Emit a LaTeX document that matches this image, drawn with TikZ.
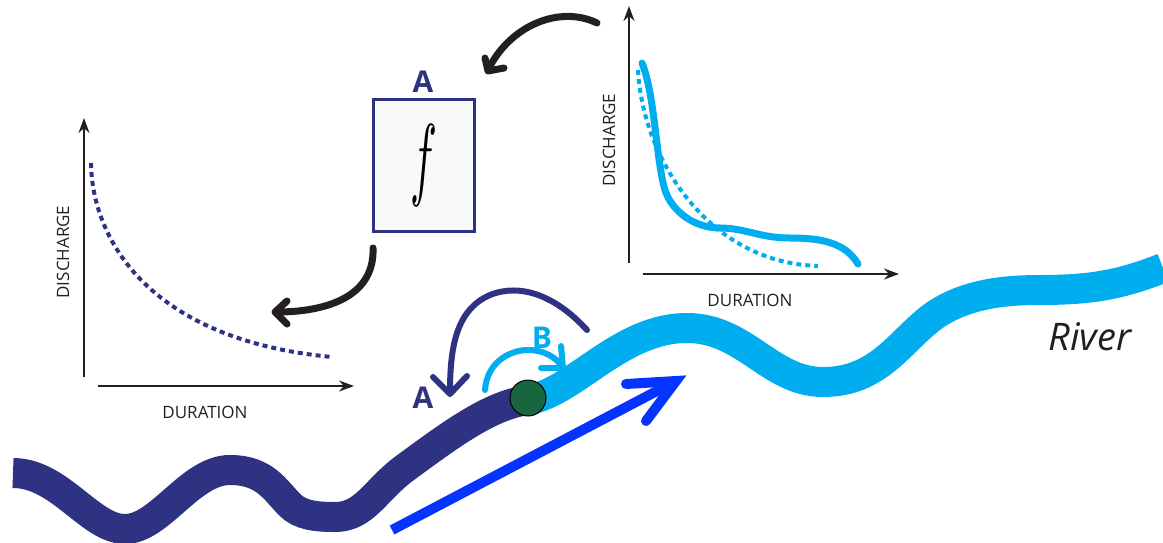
\documentclass[tikz,border=0pt]{standalone}
\usepackage{fontspec}
\setmainfont{Open Sans}
\usetikzlibrary{arrows.meta}
\definecolor{navy}{HTML}{2D3282}
\definecolor{cyanr}{HTML}{00AEEF}
\definecolor{bluea}{HTML}{0534FF}
\definecolor{gauge}{HTML}{186640}
\definecolor{ink}{HTML}{231F20}
\definecolor{boxfill}{HTML}{F7F8F8}
\tikzset{
  riverline/.style={line width=30pt},
  handarrow/.style={line width=7pt, line cap=round, line join=round, draw=ink},
  dotline/.style={line width=4pt, dash pattern=on 5pt off 4pt},
  axisline/.style={line width=1.8pt, draw=ink, -{Stealth[length=15pt,width=11pt]}},
  axlabel/.style={font=\fontsize{17}{17}\selectfont, text=ink, inner sep=0pt},
  letterlbl/.style={font=\bfseries\fontsize{30}{30}\selectfont, inner sep=0pt},
  thinarc/.style={line width=6pt, line cap=round, line join=round}
}
\begin{document}
\begin{tikzpicture}[x=1pt,y=-1pt]
\useasboundingbox (0,0) rectangle (1163,542);

% rivers
\draw[riverline, navy] (13,473) .. controls (60,473) and (90,529) .. (125,529)
  .. controls (160,529) and (190,470) .. (230,470)
  .. controls (265,470) and (275,490) .. (290,505)
  .. controls (300,515) and (315,517) .. (335,517)
  .. controls (365,517) and (375,490) .. (405,468)
  .. controls (450,435) and (490,405) .. (528,400);
\draw[riverline, cyanr] (528,400) .. controls (575,392) and (620,328) .. (687,328)
  .. controls (745,328) and (770,382) .. (823,382)
  .. controls (880,382) and (900,340) .. (935,315)
  .. controls (965,295) and (1000,290) .. (1040,290)
  .. controls (1090,290) and (1120,285) .. (1163,268);

% blue flow arrow
\coordinate (flowS) at (392,530);
\coordinate (flowT) at (676,381);
\draw[bluea, line width=10pt] (flowS) -- (flowT);
\draw[bluea, line width=10pt, line cap=round, line join=miter] (626,384) -- (flowT) -- (646,421);

% gauge
\node[circle, draw=black, line width=1pt, fill=gauge, minimum size=36pt, inner sep=0pt] (gauge) at (528,398) {};

% arc A
\draw[thinarc, navy] (587,330) .. controls (555,295) and (520,283) .. (490,295)
  .. controls (455,310) and (450,350) .. (450,393);
\draw[thinarc, navy] (433,377) -- (450,394) -- (467,376);
\node[letterlbl, text=navy] (lblA) at (423,398) {A};

% arc B
\draw[thinarc, cyanr] (485,390) .. controls (487,362) and (510,350) .. (528,350)
  .. controls (545,350) and (556,358) .. (562,366);
\draw[thinarc, cyanr] (561,346) -- (563,368) -- (541,368);
\node[letterlbl, text=cyanr] (lblB) at (542,338) {B};

% function box
\node[draw=navy, line width=3pt, fill=boxfill, minimum width=101pt, minimum height=132pt, inner sep=0pt] (fbox) at (424,165.5)
  {\scalebox{4.5}[9.2]{$f$}};
\node[letterlbl, text=navy] (lblA2) at (423,82) {A};

% left plot
\coordinate (lo) at (84,377);
\draw[axisline] (lo) -- (84,118);
\draw[axisline] (98,386) -- (354,386);
\node[axlabel] (ldur) at (205,412) {DURATION};
\node[axlabel, rotate=90] (ldis) at (63,252) {DISCHARGE};
\draw[dotline, navy] (91,163) .. controls (92,240) and (150,340) .. (332,357);

% right plot
\draw[axisline] (629,263) -- (629,6);
\draw[axisline] (643,274) -- (899,274);
\node[axlabel] (rdur) at (750,300) {DURATION};
\node[axlabel, rotate=90] (rdis) at (609,140) {DISCHARGE};
\draw[dotline, cyanr] (638,70) .. controls (642,140) and (680,205) .. (730,238)
  .. controls (760,258) and (790,265) .. (818,266);
\draw[cyanr, line width=7pt, line cap=round, line join=round] (642,63) .. controls (655,95) and (656,160) .. (665,190)
  .. controls (672,212) and (695,228) .. (720,228)
  .. controls (745,228) and (760,238) .. (790,238)
  .. controls (820,238) and (845,242) .. (858,264);

% black curved arrows
\draw[handarrow] (597,23) .. controls (560,5) and (510,25) .. (488,70);
\draw[handarrow] (485,58) -- (488,71) -- (504,68);
\draw[handarrow] (373,248) .. controls (375,300) and (320,312) .. (277,312);
\draw[handarrow] (287,301) -- (275,312) -- (287,324);

% label
\node[font=\itshape\fontsize{38}{38}\selectfont, text=ink, inner sep=0pt] (river) at (1090,337) {River};
\end{tikzpicture}
\end{document}
